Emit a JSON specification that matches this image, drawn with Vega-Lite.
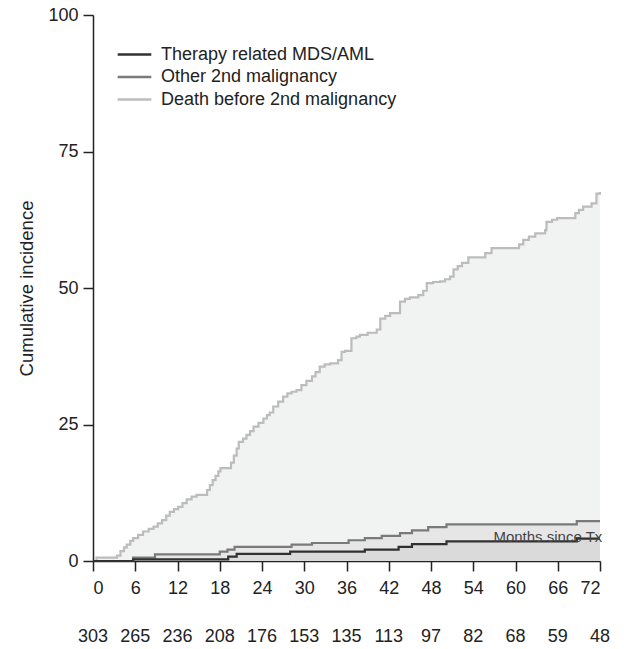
{
  "$schema": "https://vega.github.io/schema/vega-lite/v6.json",
  "background": "white",
  "padding": {"left": 17, "top": 6, "right": 12, "bottom": 0},
  "spacing": 30,
  "config": {
    "view": {"stroke": null},
    "font": "Liberation Sans",
    "axis": {
      "domainColor": "#222222",
      "domainWidth": 1.5,
      "tickColor": "#222222",
      "tickWidth": 1.5,
      "tickSize": 10,
      "labelFont": "Liberation Sans",
      "labelFontSize": 18,
      "labelColor": "#222222",
      "titleFont": "Liberation Sans",
      "titleFontSize": 18.5,
      "titleFontWeight": "normal",
      "titleColor": "#222222",
      "grid": false
    }
  },
  "datasets": {
    "curves": [
      {"series": "Death before 2nd malignancy", "month": 0, "value": 0},
      {"series": "Death before 2nd malignancy", "month": 0.5, "value": 0.6},
      {"series": "Death before 2nd malignancy", "month": 3.4, "value": 1.0},
      {"series": "Death before 2nd malignancy", "month": 3.9, "value": 1.8},
      {"series": "Death before 2nd malignancy", "month": 4.4, "value": 2.5},
      {"series": "Death before 2nd malignancy", "month": 4.8, "value": 3.0},
      {"series": "Death before 2nd malignancy", "month": 5.3, "value": 3.7},
      {"series": "Death before 2nd malignancy", "month": 5.7, "value": 4.2},
      {"series": "Death before 2nd malignancy", "month": 6.4, "value": 4.8},
      {"series": "Death before 2nd malignancy", "month": 7.1, "value": 5.4},
      {"series": "Death before 2nd malignancy", "month": 7.9, "value": 5.9},
      {"series": "Death before 2nd malignancy", "month": 8.6, "value": 6.3},
      {"series": "Death before 2nd malignancy", "month": 9.2, "value": 6.9},
      {"series": "Death before 2nd malignancy", "month": 9.8, "value": 7.5},
      {"series": "Death before 2nd malignancy", "month": 10.4, "value": 8.3},
      {"series": "Death before 2nd malignancy", "month": 10.9, "value": 9.0},
      {"series": "Death before 2nd malignancy", "month": 11.5, "value": 9.5},
      {"series": "Death before 2nd malignancy", "month": 12.1, "value": 9.9},
      {"series": "Death before 2nd malignancy", "month": 12.7, "value": 10.6},
      {"series": "Death before 2nd malignancy", "month": 13.3, "value": 11.3},
      {"series": "Death before 2nd malignancy", "month": 14.0, "value": 11.8},
      {"series": "Death before 2nd malignancy", "month": 14.7, "value": 12.1},
      {"series": "Death before 2nd malignancy", "month": 16.2, "value": 13.0},
      {"series": "Death before 2nd malignancy", "month": 16.6, "value": 13.9},
      {"series": "Death before 2nd malignancy", "month": 17.0, "value": 14.8},
      {"series": "Death before 2nd malignancy", "month": 17.4, "value": 15.6},
      {"series": "Death before 2nd malignancy", "month": 17.8, "value": 16.4},
      {"series": "Death before 2nd malignancy", "month": 18.1, "value": 17.0},
      {"series": "Death before 2nd malignancy", "month": 19.6, "value": 18.0},
      {"series": "Death before 2nd malignancy", "month": 20.0, "value": 19.3},
      {"series": "Death before 2nd malignancy", "month": 20.4, "value": 20.6},
      {"series": "Death before 2nd malignancy", "month": 20.7, "value": 21.8},
      {"series": "Death before 2nd malignancy", "month": 21.3, "value": 22.4},
      {"series": "Death before 2nd malignancy", "month": 21.8, "value": 23.1},
      {"series": "Death before 2nd malignancy", "month": 22.3, "value": 23.8},
      {"series": "Death before 2nd malignancy", "month": 22.8, "value": 24.6},
      {"series": "Death before 2nd malignancy", "month": 23.5, "value": 25.3},
      {"series": "Death before 2nd malignancy", "month": 24.2, "value": 26.1},
      {"series": "Death before 2nd malignancy", "month": 24.7, "value": 26.7},
      {"series": "Death before 2nd malignancy", "month": 25.1, "value": 27.2},
      {"series": "Death before 2nd malignancy", "month": 25.6, "value": 28.3},
      {"series": "Death before 2nd malignancy", "month": 26.3, "value": 29.2},
      {"series": "Death before 2nd malignancy", "month": 27.0, "value": 30.1},
      {"series": "Death before 2nd malignancy", "month": 27.6, "value": 30.7},
      {"series": "Death before 2nd malignancy", "month": 28.2, "value": 31.0},
      {"series": "Death before 2nd malignancy", "month": 28.9, "value": 31.3},
      {"series": "Death before 2nd malignancy", "month": 29.6, "value": 32.2},
      {"series": "Death before 2nd malignancy", "month": 30.3, "value": 33.0},
      {"series": "Death before 2nd malignancy", "month": 31.1, "value": 33.8},
      {"series": "Death before 2nd malignancy", "month": 31.6, "value": 34.6},
      {"series": "Death before 2nd malignancy", "month": 32.2, "value": 35.6},
      {"series": "Death before 2nd malignancy", "month": 32.9, "value": 36.0},
      {"series": "Death before 2nd malignancy", "month": 33.7, "value": 36.2},
      {"series": "Death before 2nd malignancy", "month": 34.8, "value": 36.8},
      {"series": "Death before 2nd malignancy", "month": 35.3, "value": 38.3},
      {"series": "Death before 2nd malignancy", "month": 35.8, "value": 38.5},
      {"series": "Death before 2nd malignancy", "month": 36.7, "value": 40.8},
      {"series": "Death before 2nd malignancy", "month": 37.4, "value": 41.1},
      {"series": "Death before 2nd malignancy", "month": 37.9, "value": 41.4},
      {"series": "Death before 2nd malignancy", "month": 39.0, "value": 41.8},
      {"series": "Death before 2nd malignancy", "month": 40.3, "value": 42.4},
      {"series": "Death before 2nd malignancy", "month": 40.8, "value": 44.4},
      {"series": "Death before 2nd malignancy", "month": 41.5, "value": 44.9},
      {"series": "Death before 2nd malignancy", "month": 42.2, "value": 45.4},
      {"series": "Death before 2nd malignancy", "month": 43.6, "value": 47.5},
      {"series": "Death before 2nd malignancy", "month": 44.3, "value": 48.0},
      {"series": "Death before 2nd malignancy", "month": 45.0, "value": 48.3},
      {"series": "Death before 2nd malignancy", "month": 46.2, "value": 48.7},
      {"series": "Death before 2nd malignancy", "month": 46.9, "value": 49.5},
      {"series": "Death before 2nd malignancy", "month": 47.4, "value": 50.9},
      {"series": "Death before 2nd malignancy", "month": 48.3, "value": 51.1},
      {"series": "Death before 2nd malignancy", "month": 49.3, "value": 51.2},
      {"series": "Death before 2nd malignancy", "month": 50.0, "value": 51.6},
      {"series": "Death before 2nd malignancy", "month": 50.7, "value": 52.1},
      {"series": "Death before 2nd malignancy", "month": 51.2, "value": 53.4},
      {"series": "Death before 2nd malignancy", "month": 51.8, "value": 54.0},
      {"series": "Death before 2nd malignancy", "month": 52.4, "value": 54.6},
      {"series": "Death before 2nd malignancy", "month": 53.3, "value": 55.6},
      {"series": "Death before 2nd malignancy", "month": 55.7, "value": 56.4},
      {"series": "Death before 2nd malignancy", "month": 56.6, "value": 57.3},
      {"series": "Death before 2nd malignancy", "month": 60.5, "value": 58.0},
      {"series": "Death before 2nd malignancy", "month": 61.1, "value": 58.8},
      {"series": "Death before 2nd malignancy", "month": 61.9, "value": 59.4},
      {"series": "Death before 2nd malignancy", "month": 62.8, "value": 60.0},
      {"series": "Death before 2nd malignancy", "month": 64.2, "value": 60.6},
      {"series": "Death before 2nd malignancy", "month": 64.4, "value": 62.1},
      {"series": "Death before 2nd malignancy", "month": 65.2, "value": 62.5},
      {"series": "Death before 2nd malignancy", "month": 65.9, "value": 62.8},
      {"series": "Death before 2nd malignancy", "month": 68.5, "value": 63.7},
      {"series": "Death before 2nd malignancy", "month": 69.0, "value": 64.3},
      {"series": "Death before 2nd malignancy", "month": 69.6, "value": 64.9},
      {"series": "Death before 2nd malignancy", "month": 70.8, "value": 65.5},
      {"series": "Death before 2nd malignancy", "month": 71.5, "value": 67.3},
      {"series": "Death before 2nd malignancy", "month": 72, "value": 67.6},
      {"series": "Other 2nd malignancy", "month": 0, "value": 0},
      {"series": "Other 2nd malignancy", "month": 5.7, "value": 0.6},
      {"series": "Other 2nd malignancy", "month": 8.8, "value": 1.2},
      {"series": "Other 2nd malignancy", "month": 18.0, "value": 1.7},
      {"series": "Other 2nd malignancy", "month": 19.1, "value": 2.1},
      {"series": "Other 2nd malignancy", "month": 20.1, "value": 2.6},
      {"series": "Other 2nd malignancy", "month": 28.2, "value": 3.0},
      {"series": "Other 2nd malignancy", "month": 31.1, "value": 3.3},
      {"series": "Other 2nd malignancy", "month": 36.3, "value": 3.8},
      {"series": "Other 2nd malignancy", "month": 38.6, "value": 4.2},
      {"series": "Other 2nd malignancy", "month": 41.0, "value": 4.6},
      {"series": "Other 2nd malignancy", "month": 43.6, "value": 5.1},
      {"series": "Other 2nd malignancy", "month": 45.3, "value": 5.6},
      {"series": "Other 2nd malignancy", "month": 47.6, "value": 6.2},
      {"series": "Other 2nd malignancy", "month": 50.2, "value": 6.7},
      {"series": "Other 2nd malignancy", "month": 68.7, "value": 7.3},
      {"series": "Other 2nd malignancy", "month": 72, "value": 7.3},
      {"series": "Therapy related MDS/AML", "month": 0, "value": 0},
      {"series": "Therapy related MDS/AML", "month": 5.7, "value": 0.3},
      {"series": "Therapy related MDS/AML", "month": 19.2, "value": 0.8},
      {"series": "Therapy related MDS/AML", "month": 20.4, "value": 1.3},
      {"series": "Therapy related MDS/AML", "month": 28.0, "value": 1.7},
      {"series": "Therapy related MDS/AML", "month": 38.6, "value": 2.1},
      {"series": "Therapy related MDS/AML", "month": 43.4, "value": 2.6},
      {"series": "Therapy related MDS/AML", "month": 45.3, "value": 3.1},
      {"series": "Therapy related MDS/AML", "month": 50.2, "value": 3.6},
      {"series": "Therapy related MDS/AML", "month": 68.7, "value": 4.1},
      {"series": "Therapy related MDS/AML", "month": 72, "value": 4.1}
    ],
    "risk": [
      {"month": 0, "n": 303}, {"month": 6, "n": 265}, {"month": 12, "n": 236},
      {"month": 18, "n": 208}, {"month": 24, "n": 176}, {"month": 30, "n": 153},
      {"month": 36, "n": 135}, {"month": 42, "n": 113}, {"month": 48, "n": 97},
      {"month": 54, "n": 82}, {"month": 60, "n": 68}, {"month": 66, "n": 59},
      {"month": 72, "n": 48}
    ],
    "note": [
      {"month": 64.6, "value": 3.5, "label": "Months since Tx"}
    ]
  },
  "vconcat": [
    {
      "width": 507,
      "height": 546,
      "layer": [
        {
          "data": {"name": "curves"},
          "transform": [{"filter": "datum.series === 'Death before 2nd malignancy'"}],
          "mark": {"type": "area", "interpolate": "step-after", "color": "#f1f2f2"},
          "encoding": {
            "x": {"field": "month", "type": "quantitative", "scale": {"domain": [0, 72], "nice": false},
              "axis": {"values": [0, 6, 12, 18, 24, 30, 36, 42, 48, 54, 60, 66, 72], "title": null, "labelPadding": 8}},
            "y": {"field": "value", "type": "quantitative", "stack": null, "scale": {"domain": [0, 100], "nice": false},
              "axis": {"values": [0, 25, 50, 75, 100], "title": "Cumulative incidence", "labelPadding": 5, "titlePadding": 11}}
          }
        },
        {
          "data": {"name": "curves"},
          "transform": [{"filter": "datum.series === 'Other 2nd malignancy'"}],
          "mark": {"type": "area", "interpolate": "step-after", "color": "#e6e6e6"},
          "encoding": {
            "x": {"field": "month", "type": "quantitative"},
            "y": {"field": "value", "type": "quantitative", "stack": null}
          }
        },
        {
          "data": {"name": "curves"},
          "transform": [{"filter": "datum.series === 'Therapy related MDS/AML'"}],
          "mark": {"type": "area", "interpolate": "step-after", "color": "#dadada"},
          "encoding": {
            "x": {"field": "month", "type": "quantitative"},
            "y": {"field": "value", "type": "quantitative", "stack": null}
          }
        },
        {
          "data": {"name": "curves"},
          "mark": {"type": "line", "interpolate": "step-after", "strokeWidth": 2.2},
          "encoding": {
            "x": {"field": "month", "type": "quantitative"},
            "y": {"field": "value", "type": "quantitative"},
            "stroke": {
              "field": "series", "type": "nominal",
              "scale": {"domain": ["Therapy related MDS/AML", "Other 2nd malignancy", "Death before 2nd malignancy"],
                        "range": ["#303030", "#7a7a7a", "#bcbcbc"]},
              "legend": {
                "title": null,
                "orient": "none",
                "legendX": 32,
                "legendY": 30,
                "padding": 0,
                "symbolType": "M-2.1,0H2.1",
                "symbolSize": 256,
                "symbolStrokeWidth": 2.6,
                "labelOffset": 17,
                "labelFontSize": 18,
                "labelFont": "Liberation Sans",
                "labelColor": "#222222",
                "rowPadding": 3.5,
                "labelLimit": 400
              }
            }
          }
        },
        {
          "data": {"name": "note"},
          "mark": {"type": "text", "fontSize": 15, "color": "#444444", "align": "center", "baseline": "alphabetic"},
          "encoding": {
            "x": {"field": "month", "type": "quantitative"},
            "y": {"field": "value", "type": "quantitative"},
            "text": {"field": "label"}
          }
        }
      ]
    },
    {
      "width": 507,
      "height": 20,
      "data": {"name": "risk"},
      "mark": {"type": "text", "fontSize": 18, "color": "#222222", "baseline": "middle", "align": "center"},
      "encoding": {
        "x": {"field": "month", "type": "quantitative", "scale": {"domain": [0, 72], "nice": false}, "axis": null},
        "text": {"field": "n"}
      }
    }
  ]
}
